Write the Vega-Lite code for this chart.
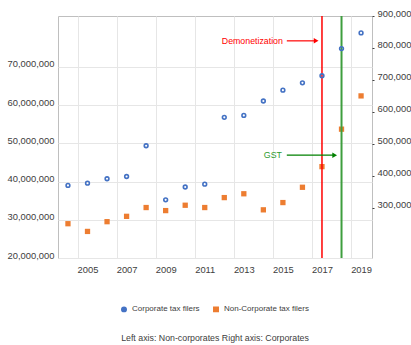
{
  "$schema": "https://vega.github.io/schema/vega-lite/v6.json",
  "width": 314,
  "height": 242,
  "autosize": {"type": "none"},
  "padding": {"left": 58, "top": 16, "right": 39, "bottom": 87},
  "background": "white",
  "config": {
    "font": "Liberation Sans",
    "view": {"stroke": "#BFBFBF", "strokeWidth": 1},
    "axis": {"labelFont": "Liberation Sans", "labelColor": "#404040", "labelFontSize": 9.4, "domain": false, "ticks": false, "title": null, "gridColor": "#E6E6E6", "gridWidth": 1},
    "legend": {"labelFont": "Liberation Sans", "labelFontSize": 8, "labelColor": "#404040", "symbolSize": 20, "columnPadding": 10}
  },
  "title": {"text": "Left axis: Non-corporates Right axis: Corporates", "orient": "bottom", "anchor": "middle", "font": "Liberation Sans", "fontSize": 8.8, "fontWeight": "normal", "color": "#404040", "offset": 19},
  "datasets": {
    "filers": [
      {"year": 2004, "corporate": 370000, "noncorporate": 28970000},
      {"year": 2005, "corporate": 377000, "noncorporate": 26950000},
      {"year": 2006, "corporate": 391000, "noncorporate": 29500000},
      {"year": 2007, "corporate": 398000, "noncorporate": 30900000},
      {"year": 2008, "corporate": 494000, "noncorporate": 33200000},
      {"year": 2009, "corporate": 325000, "noncorporate": 32400000},
      {"year": 2010, "corporate": 365000, "noncorporate": 33800000},
      {"year": 2011, "corporate": 374000, "noncorporate": 33200000},
      {"year": 2012, "corporate": 583000, "noncorporate": 35800000},
      {"year": 2013, "corporate": 589000, "noncorporate": 36800000},
      {"year": 2014, "corporate": 634000, "noncorporate": 32600000},
      {"year": 2015, "corporate": 668000, "noncorporate": 34500000},
      {"year": 2016, "corporate": 691000, "noncorporate": 38500000},
      {"year": 2017, "corporate": 713000, "noncorporate": 43900000},
      {"year": 2018, "corporate": 798000, "noncorporate": 53700000},
      {"year": 2019, "corporate": 847000, "noncorporate": 62400000}
    ],
    "events": [
      {"year": 2017, "event": "Demonetization"},
      {"year": 2018, "event": "GST"}
    ],
    "notes": [
      {"label": "Demonetization", "textX": 2015.0, "lineStart": 2015.2, "lineEnd": 2016.7, "level": 76800000},
      {"label": "GST", "textX": 2014.95, "lineStart": 2015.2, "lineEnd": 2017.65, "level": 46900000}
    ]
  },
  "layer": [
    {
      "layer": [
        {
          "data": {"name": "filers"},
          "mark": {"type": "point", "filled": true, "opacity": 1, "size": 28},
          "encoding": {
            "x": {"field": "year", "type": "quantitative", "scale": {"domain": [2003.49, 2019.56], "nice": false, "zero": false}, "axis": {"orient": "bottom", "values": [2004.5, 2006.5, 2008.5, 2010.5, 2012.5, 2014.5, 2016.5, 2018.5], "labels": false, "grid": true}},
            "y": {"field": "noncorporate", "type": "quantitative", "scale": {"domain": [20000000, 83300000], "nice": false, "zero": false}, "axis": {"orient": "left", "values": [20000000, 30000000, 40000000, 50000000, 60000000, 70000000], "format": ",d", "grid": true, "labelPadding": 4, "labelOffset": -3}},
            "color": {"datum": "Non-Corporate tax filers", "type": "nominal", "scale": {"domain": ["Corporate tax filers", "Non-Corporate tax filers"], "range": ["#4472C4", "#ED7D31"]}, "legend": {"title": null, "orient": "none", "direction": "horizontal", "legendX": 62, "legendY": 289}},
            "shape": {"datum": "Non-Corporate tax filers", "type": "nominal", "scale": {"domain": ["Corporate tax filers", "Non-Corporate tax filers"], "range": ["circle", "square"]}, "legend": {"title": null, "orient": "none", "direction": "horizontal", "legendX": 62, "legendY": 289}}
          }
        },
        {
          "data": {"name": "events"},
          "mark": {"type": "rule"},
          "encoding": {
            "x": {"field": "year", "type": "quantitative"},
            "color": {"condition": {"test": "datum.event === 'GST'", "value": "#3E9E3E"}, "value": "#FF0000"},
            "strokeWidth": {"condition": {"test": "datum.event === 'GST'", "value": 2}, "value": 1.5}
          }
        },
        {
          "data": {"name": "notes"},
          "mark": {"type": "text", "align": "right", "baseline": "middle", "fontSize": 8.8, "font": "Liberation Sans"},
          "encoding": {
            "x": {"field": "textX", "type": "quantitative"},
            "y": {"field": "level", "type": "quantitative"},
            "text": {"field": "label"},
            "color": {"condition": {"test": "datum.label === 'GST'", "value": "#2E9A2E"}, "value": "#FF0000"}
          }
        },
        {
          "data": {"name": "notes"},
          "mark": {"type": "rule", "strokeWidth": 1.2},
          "encoding": {
            "x": {"field": "lineStart", "type": "quantitative"},
            "x2": {"field": "lineEnd"},
            "y": {"field": "level", "type": "quantitative"},
            "color": {"condition": {"test": "datum.label === 'GST'", "value": "#008000"}, "value": "#FF0000"}
          }
        },
        {
          "data": {"name": "notes"},
          "mark": {"type": "point", "shape": "triangle-right", "filled": true, "opacity": 1, "size": 30},
          "encoding": {
            "x": {"field": "lineEnd", "type": "quantitative"},
            "y": {"field": "level", "type": "quantitative"},
            "color": {"condition": {"test": "datum.label === 'GST'", "value": "#008000"}, "value": "#FF0000"}
          }
        }
      ]
    },
    {
      "data": {"name": "filers"},
      "mark": {"type": "point", "filled": false, "opacity": 1, "size": 14, "strokeWidth": 1.6},
      "encoding": {
        "x": {"field": "year", "type": "quantitative", "axis": {"orient": "bottom", "values": [2005, 2007, 2009, 2011, 2013, 2015, 2017, 2019], "format": "d", "grid": false, "labelPadding": 7}},
        "y": {"field": "corporate", "type": "quantitative", "scale": {"domain": [143000, 900000], "nice": false, "zero": false}, "axis": {"orient": "right", "values": [300000, 400000, 500000, 600000, 700000, 800000, 900000], "format": ",d", "grid": false, "ticks": true, "tickSize": 2, "tickColor": "#404040", "labelPadding": 3, "labelOffset": -3}},
        "color": {"datum": "Corporate tax filers", "type": "nominal"},
        "shape": {"datum": "Corporate tax filers", "type": "nominal"}
      }
    }
  ],
  "resolve": {"scale": {"y": "independent"}, "axis": {"x": "independent"}}
}
